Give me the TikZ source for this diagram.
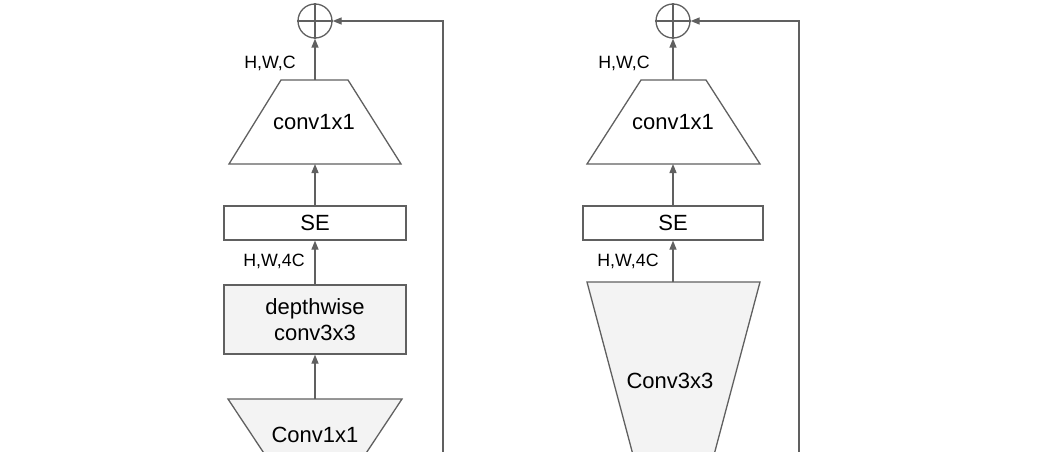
\documentclass[tikz,border=0pt]{standalone}
\usepackage{fontspec}
\setmainfont{Liberation Sans}
\usetikzlibrary{arrows.meta}
\definecolor{ln}{HTML}{606060}
\definecolor{fl}{HTML}{F3F3F3}
\begin{document}
\begin{tikzpicture}[x=1pt,y=-1pt,
  line width=1.3pt,
  conn/.style={draw=ln,-{Triangle[length=9pt,width=7pt]}},
  shp/.style={draw=ln,line join=miter},
  boxn/.style={draw=ln,rectangle,minimum width=182pt,inner sep=0pt,align=center,font=\fontsize{22}{26}\selectfont},
  lbl/.style={font=\fontsize{22}{26}\selectfont,inner sep=0pt,align=center},
  dim/.style={font=\fontsize{17.8}{20}\selectfont,inner sep=0pt},
  plus/.style={circle,draw=ln,minimum size=34pt,inner sep=0pt}]
\useasboundingbox (0,0) rectangle (1063,452);
\clip (0,0) rectangle (1063,452);
\fill[white] (0,0) rectangle (1063,452);

% ---------- left block ----------
\node[plus] (plusL) at (315,21) {};
\draw[ln] (plusL.north) -- (plusL.south) (plusL.west) -- (plusL.east);
\draw[shp] (281,80) -- (348,80) -- (401,164) -- (229,164) -- cycle;
\coordinate (topL1) at (315,80);
\coordinate (botL1) at (315,164);
\node[lbl] (c1L) at (314,122) {conv1x1};
\node[dim] (hwcL) at (270,63) {H,W,C};
\node[boxn,minimum height=34pt] (seL) at (315,223) {SE};
\node[dim] (hw4L) at (274,261) {H,W,4C};
\node[boxn,fill=fl,minimum height=69pt] (dwL) at (315,319.5) {depthwise\\conv3x3};
\draw[shp,fill=fl] (228,399) -- (402,399) -- (335,500) -- (295,500) -- cycle;
\coordinate (topL2) at (315,399);
\node[lbl] (c2L) at (315,435) {Conv1x1};
\coordinate (skipL) at (443,470);

\draw[conn] (topL2) -- (dwL.south);
\draw[conn] (dwL.north) -- (seL.south);
\draw[conn] (seL.north) -- (botL1);
\draw[conn] (topL1) -- (plusL.south);
\draw[conn] (skipL) |- (plusL.east);

% ---------- right block ----------
\node[plus] (plusR) at (673,21) {};
\draw[ln] (plusR.north) -- (plusR.south) (plusR.west) -- (plusR.east);
\draw[shp] (641,80) -- (706,80) -- (760,164) -- (587,164) -- cycle;
\coordinate (topR1) at (673,80);
\coordinate (botR1) at (673,164);
\node[lbl] (c1R) at (673,122) {conv1x1};
\node[dim] (hwcR) at (624,63) {H,W,C};
\node[boxn,minimum width=180pt,minimum height=34pt] (seR) at (673,223) {SE};
\node[dim] (hw4R) at (628,261) {H,W,4C};
\draw[shp,fill=fl] (587,282) -- (760,282) -- (702,500) -- (645,500) -- cycle;
\coordinate (topR2) at (673,282);
\node[lbl] (c3R) at (670,381) {Conv3x3};
\coordinate (skipR) at (799,470);

\draw[conn] (topR2) -- (seR.south);
\draw[conn] (seR.north) -- (botR1);
\draw[conn] (topR1) -- (plusR.south);
\draw[conn] (skipR) |- (plusR.east);
\end{tikzpicture}
\end{document}
